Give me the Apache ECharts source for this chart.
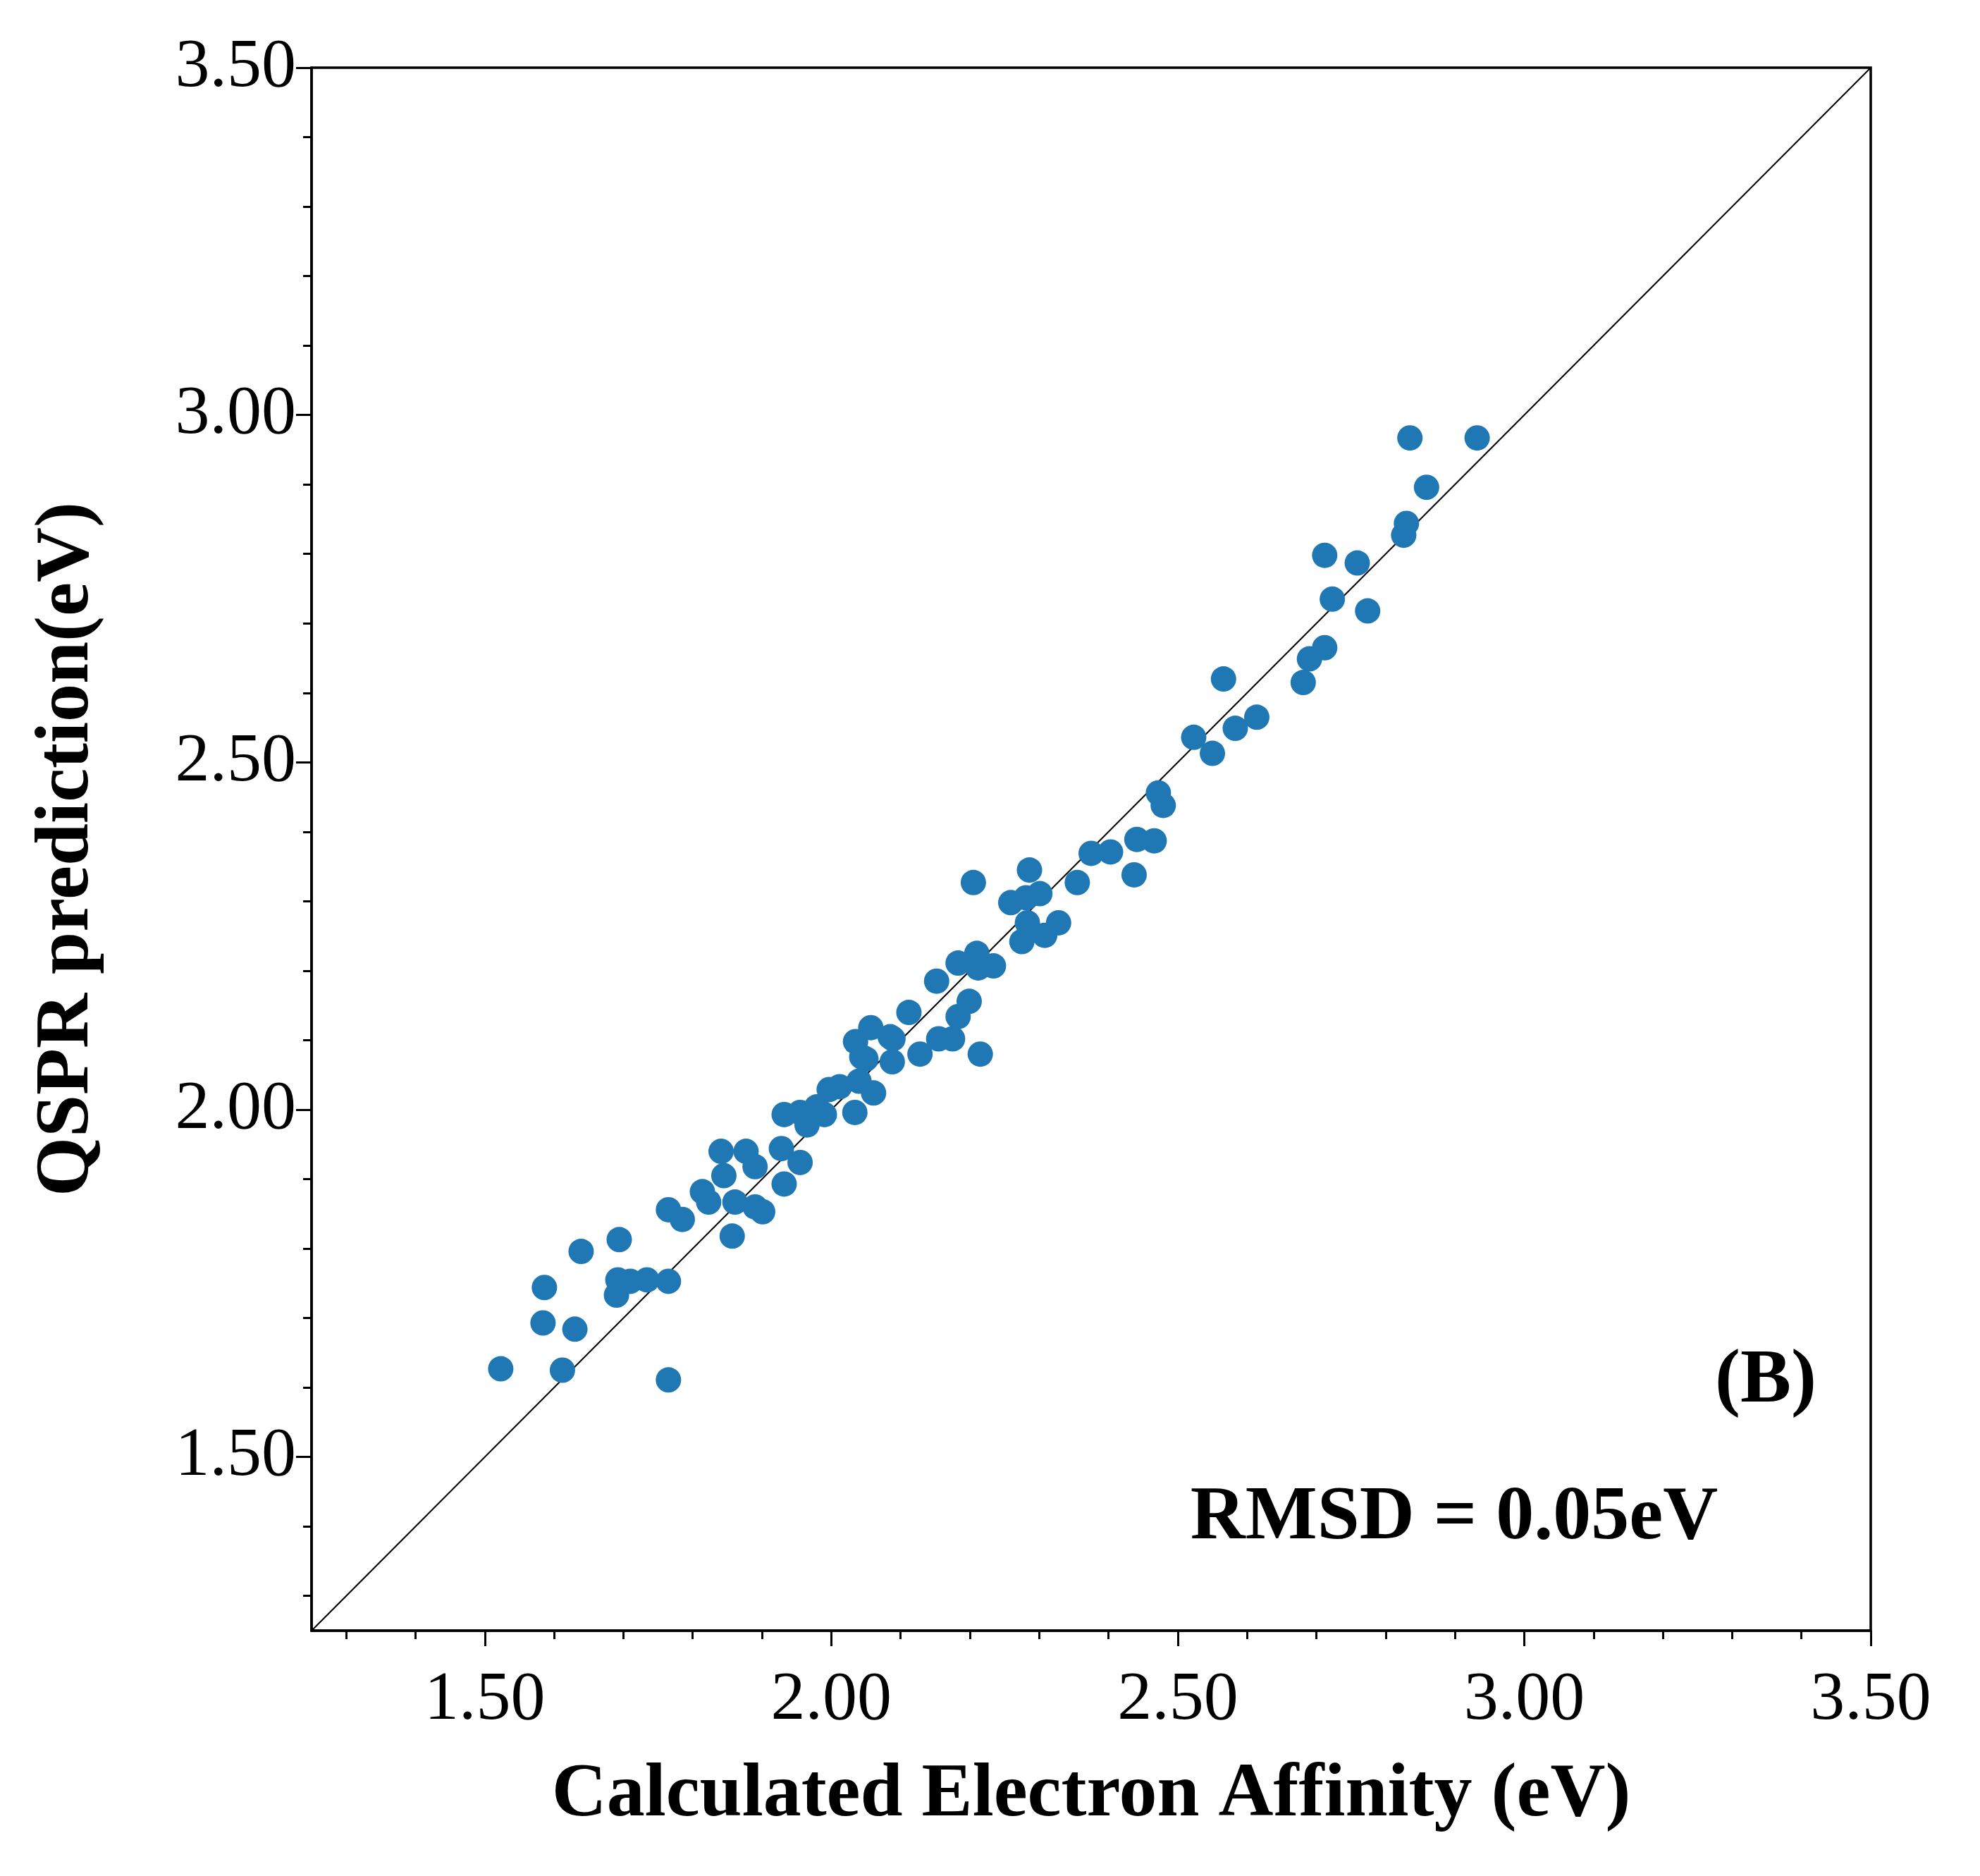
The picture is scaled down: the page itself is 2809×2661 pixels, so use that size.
<!DOCTYPE html>
<html>
<head>
<meta charset="utf-8">
<script src="https://cdn.jsdelivr.net/npm/echarts@6/dist/echarts.min.js"></script>
<style>html,body{margin:0;padding:0;background:#fff}#chart{width:2809px;height:2661px}</style>
</head>
<body>
<div id="chart"></div>
<script>
// calculated EA vs QSPR prediction
var calcEA = [1.523,1.612,1.765,1.586,1.584,1.630,1.639,1.694,1.692,1.690,1.710,1.734,1.765,1.765,1.785,1.814,1.823,1.841,1.845,1.857,1.861,1.877,1.890,1.890,1.901,1.928,1.932,1.932,1.955,1.955,1.965,1.975,1.990,1.997,2.012,2.034,2.035,2.050,2.057,2.061,2.085,2.088,2.112,2.128,2.155,2.152,2.175,2.183,2.183,2.199,2.212,2.210,2.215,2.205,2.234,2.259,2.275,2.281,2.286,2.283,2.301,2.308,2.328,2.355,2.375,2.403,2.437,2.441,2.466,2.472,2.479,2.523,2.550,2.566,2.583,2.614,2.681,2.690,2.712,2.712,2.723,2.759,2.774,2.826,2.830,2.835,2.859,2.932,2.089,2.044,2.040,1.979];
var predEA = [1.627,1.625,1.611,1.744,1.693,1.684,1.796,1.813,1.755,1.733,1.753,1.755,1.753,1.856,1.842,1.882,1.867,1.940,1.905,1.818,1.867,1.940,1.918,1.860,1.853,1.944,1.893,1.993,1.924,1.996,1.978,1.996,1.993,2.029,2.033,1.996,2.098,2.073,2.118,2.024,2.105,2.069,2.140,2.080,2.102,2.185,2.102,2.134,2.211,2.156,2.204,2.225,2.080,2.327,2.207,2.298,2.242,2.305,2.345,2.269,2.311,2.251,2.269,2.327,2.369,2.371,2.338,2.389,2.387,2.456,2.438,2.536,2.513,2.620,2.549,2.565,2.615,2.649,2.665,2.798,2.735,2.787,2.718,2.827,2.844,2.967,2.896,2.967,2.102,2.076,2.041,2.004];
var majorTicks = [1.5, 2.0, 2.5, 3.0, 3.5];
var minorTicks = [1.3,1.4,1.6,1.7,1.8,1.9,2.1,2.2,2.3,2.4,2.6,2.7,2.8,2.9,3.1,3.2,3.3,3.4];

var points = calcEA.map(function (v, i) { return [v, predEA[i]]; });
var font = 'Liberation Serif';

function makeAxis(isX, major) {
    var ax = {
        type: 'value', min: 1.25, max: 3.5,
        position: isX ? 'bottom' : 'left',
        splitLine: { show: false },
        axisLine: { show: major, lineStyle: { color: '#000', width: 3.5 } },
        axisTick: {
            show: true, inside: false, length: major ? 22 : 12,
            customValues: major ? majorTicks : minorTicks,
            lineStyle: { color: '#000', width: 3 }
        },
        axisLabel: {
            show: major, customValues: majorTicks, margin: isX ? 50 : 22,
            fontFamily: font, fontSize: 98, color: '#000',
            formatter: function (v) { return v.toFixed(2); }
        }
    };
    if (major) {
        ax.name = isX ? 'Calculated Electron Affinity (eV)' : 'QSPR prediction(eV)';
        ax.nameLocation = 'middle';
        ax.nameGap = isX ? 180 : 292;
        ax.nameTextStyle = { fontFamily: font, fontSize: 108, fontWeight: 'bold', color: '#000' };
    }
    return ax;
}

var chart = echarts.init(document.getElementById('chart'));
chart.setOption({
    backgroundColor: '#fff',
    animation: false,
    grid: { left: 442, right: 155, top: 96, bottom: 348, show: true, borderColor: '#000', borderWidth: 3.5, backgroundColor: 'transparent' },
    xAxis: [makeAxis(true, true), makeAxis(true, false)],
    yAxis: [makeAxis(false, true), makeAxis(false, false)],
    series: [
        {
            type: 'line', data: [[1.25, 1.25], [3.5, 3.5]], showSymbol: false,
            lineStyle: { color: '#000', width: 2 }, z: 1
        },
        {
            type: 'scatter', data: points, symbolSize: 36,
            itemStyle: { color: '#1f77b4', opacity: 1 }, z: 2
        }
    ],
    graphic: [
        { type: 'text', x: 2505, y: 1960, style: { text: '(B)', fontFamily: font, fontSize: 108, fontWeight: 'bold', fill: '#000', textAlign: 'center', textVerticalAlign: 'middle' } },
        { type: 'text', x: 2063, y: 2154, style: { text: 'RMSD = 0.05eV', fontFamily: font, fontSize: 108, fontWeight: 'bold', fill: '#000', textAlign: 'center', textVerticalAlign: 'middle' } }
    ]
});
</script>
</body>
</html>
